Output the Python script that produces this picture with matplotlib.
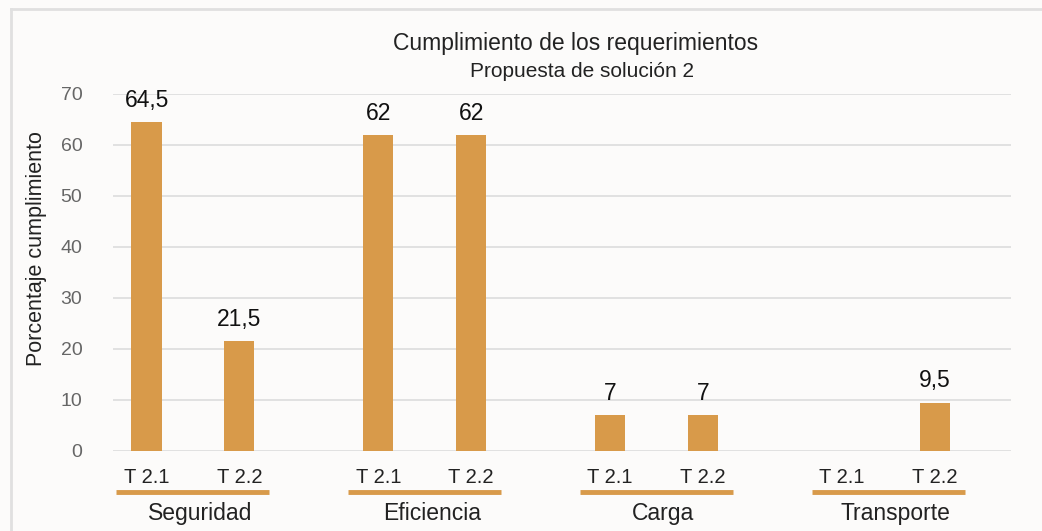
import numpy as np
import matplotlib.pyplot as plt
from matplotlib.transforms import blended_transform_factory

# chart data
groups = ['Seguridad', 'Eficiencia', 'Carga', 'Transporte']
series = ['T 2.1', 'T 2.2']
t21 = [64.5, 62, 7, None]
t22 = [21.5, 62, 7, 9.5]
y_ticks = [0, 10, 20, 30, 40, 50, 60, 70]

bar_color = '#D89A4A'
plt.rcParams['font.family'] = ['Liberation Sans', 'DejaVu Sans']

fig = plt.figure(figsize=(10.42, 5.31), dpi=100, facecolor='#FCFBFA')
ax = fig.add_axes([0.1084, 0.1507, 0.862, 0.6723])
ax.set_facecolor('#FCFBFA')

centers = np.arange(len(groups))
offset = 0.2
width = 0.13

for vals, off in [(t21, -offset), (t22, offset)]:
    for c, v in zip(centers, vals):
        if v is None:
            continue
        ax.bar(c + off, v, width=width, color=bar_color, zorder=3)
        ax.text(c + off, v + 2.0, f'{v:g}'.replace('.', ','), ha='center', va='bottom',
                fontsize=16.5, color='#111111', clip_on=False)

ax.set_xlim(-0.345, 3.53)
ax.set_ylim(0, 70)
ax.set_yticks(y_ticks)
ax.tick_params(axis='y', length=0, pad=22, labelsize=14, labelcolor='#666666')
ax.set_xticks([])
ax.grid(axis='y', color='#DCDCDC', linewidth=1.2, zorder=0)
for s in ax.spines.values():
    s.set_visible(False)

ax.set_ylabel('Porcentaje cumplimiento', fontsize=15.5, color='#222222')
ax.yaxis.set_label_coords(-0.073, 0.566)

trans = blended_transform_factory(ax.transData, ax.transAxes)
for c, g in zip(centers, groups):
    for off, name in [(-offset, series[0]), (offset, series[1])]:
        ax.text(c + off, -0.073, name, transform=trans, ha='center', va='center',
                fontsize=14.5, color='#222222')
    ax.plot([c - 0.33, c + 0.33], [-0.115, -0.115], transform=trans, color=bar_color,
            linewidth=3.5, clip_on=False, solid_capstyle='butt')
    ax.text(c + 0.03, -0.174, g, transform=trans, ha='center', va='center',
            fontsize=16.5, color='#222222')

fig.text(0.552, 0.918, 'Cumplimiento de los requerimientos', ha='center', va='center',
         fontsize=16.5, color='#222222')
fig.text(0.559, 0.866, 'Propuesta de solución 2', ha='center', va='center',
         fontsize=15, color='#222222')

# light frame around the chart area
fig.add_artist(plt.Line2D([11 / 1042, 11 / 1042], [0, 1 - 9 / 531], transform=fig.transFigure,
                          color='#E0E0E0', linewidth=2))
fig.add_artist(plt.Line2D([11 / 1042, 1], [1 - 9 / 531, 1 - 9 / 531], transform=fig.transFigure,
                          color='#E0E0E0', linewidth=2))

fig.savefig('out.png', dpi=100, facecolor=fig.get_facecolor())
